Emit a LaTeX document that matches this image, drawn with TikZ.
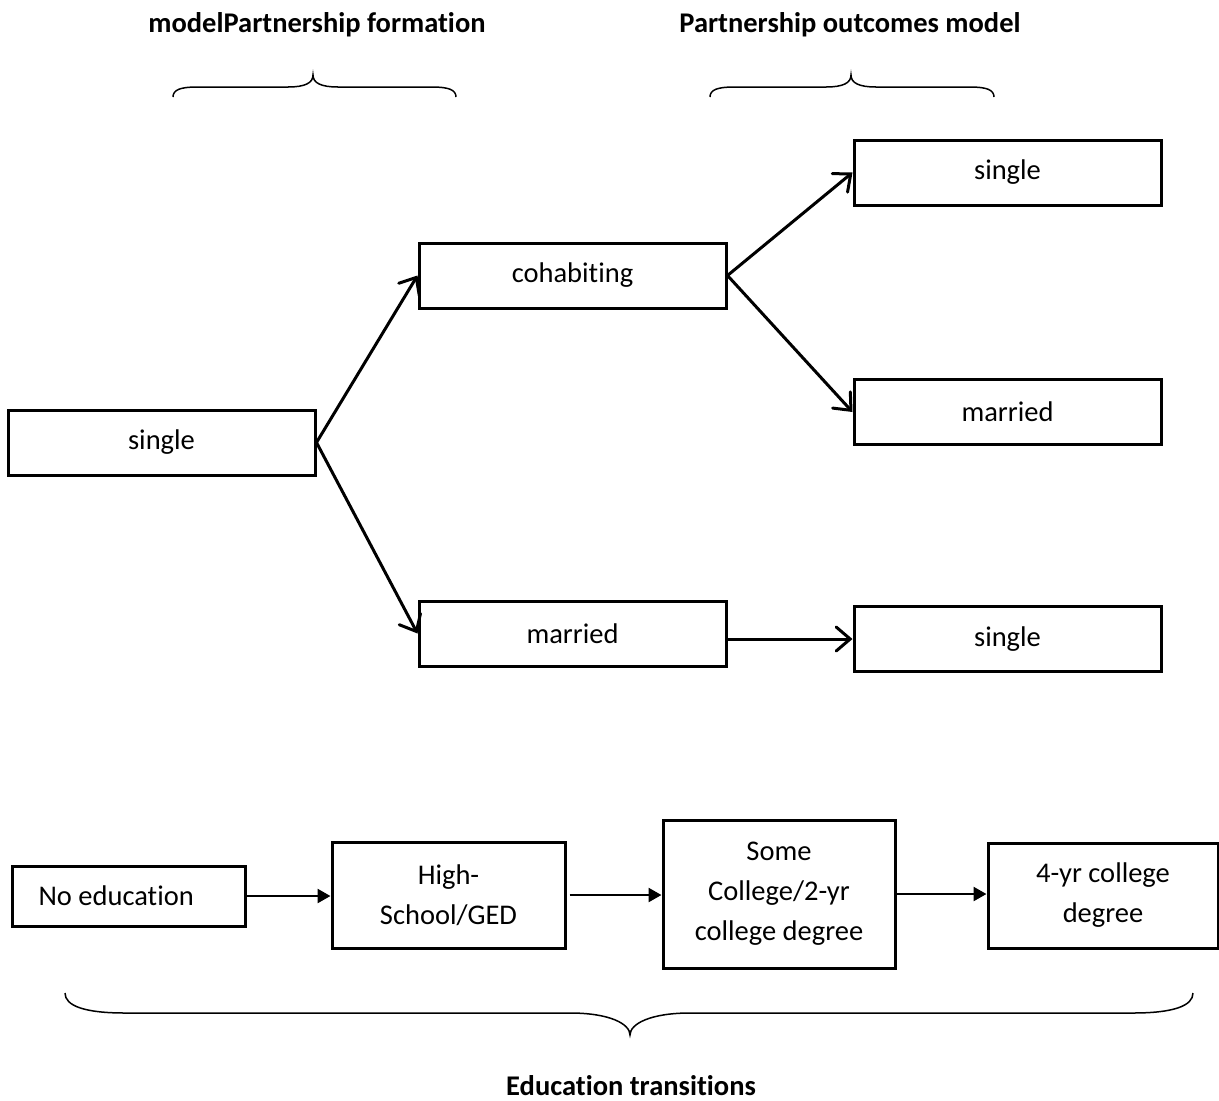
\documentclass[tikz,border=0pt]{standalone}
\usepackage{fontspec}
\setmainfont[RawFeature={-liga}]{Carlito}
\usetikzlibrary{arrows.meta}
\begin{document}
\begin{tikzpicture}[x=1pt,y=-1pt,
  every node/.style={font=\fontsize{28.5}{40}\selectfont},
  box/.style={draw,line width=3pt,inner sep=0pt,align=center},
  topbox/.style={box,minimum width=307pt,minimum height=65pt},
  flow/.style={line width=3pt,-{Straight Barb[length=14pt,width=24pt,line width=3pt,line cap=round]}},
  eflow/.style={line width=2.5pt,-{Triangle[length=13pt,width=14pt]}},
  brace/.style={line width=1.5pt},
  title/.style={inner sep=0pt,font=\fontsize{28.5}{40}\selectfont\bfseries}]
\useasboundingbox (0,0) rectangle (1219,1101);
% titles
\node[title] (t1) at (317,25) {modelPartnership formation};
\node[title] (t2) at (850,25) {Partnership outcomes model};
\node[title] (t3) at (631,1086) {Education transitions};
% top boxes
\node[topbox] (sL) at (161.5,442.5) {single};
\node[topbox] (coh) at (572.5,275.5) {cohabiting};
\node[topbox] (mar) at (572.5,633.5) {married};
\node[topbox] (s1) at (1007.5,172.5) {single};
\node[topbox] (m1) at (1007.5,412) {married};
\node[topbox] (s2) at (1007.5,639) {single};
\draw[flow] (sL.east) -- (coh.west);
\draw[flow] (sL.east) -- (mar.west);
\draw[flow] (coh.east) -- (s1.west);
\draw[flow] (coh.east) -- (m1.west);
\draw[flow] (s2.west -| mar.east) -- (s2.west);
% education boxes
\node[box,minimum width=233pt,minimum height=60pt] (ne) at (128.5,896) {};
\node[anchor=west] (net) at (35,896) {No education};
\node[box,minimum width=233pt,minimum height=106pt] (hs) at (448.5,895) {High-\\School/GED};
\node[box,minimum width=232pt,minimum height=148pt] (sc) at (779,894) {Some\\College/2-yr\\college degree};
\node[box,minimum width=230pt,minimum height=105pt] (fy) at (1103,895.5) {4-yr college\\degree};
\draw[eflow] (ne.east) -- (ne.east -| hs.west);
\draw[eflow] ([xshift=3pt]hs.east) -- (hs.east -| sc.west);
\draw[eflow] (sc.east) -- (sc.east -| fy.west);
% braces
\draw[brace] (173,97) .. controls (173,90) and (180,87) .. (197,87) -- (288,87)
  .. controls (305,87) and (313,83) .. (313,75)
  .. controls (313,83) and (321,87) .. (338,87) -- (432,87)
  .. controls (449,87) and (456,90) .. (456,97);
\draw[brace] (710,97) .. controls (710,90) and (717,87) .. (734,87) -- (826,87)
  .. controls (843,87) and (851,83) .. (851,75)
  .. controls (851,83) and (859,87) .. (876,87) -- (970,87)
  .. controls (987,87) and (994,90) .. (994,97);
\draw[brace] (65,993) .. controls (65,1006) and (85,1013) .. (125,1013) -- (570,1013)
  .. controls (610,1013) and (630,1024) .. (630,1035)
  .. controls (630,1024) and (650,1013) .. (690,1013) -- (1133,1013)
  .. controls (1173,1013) and (1193,1006) .. (1193,993);
\end{tikzpicture}
\end{document}
